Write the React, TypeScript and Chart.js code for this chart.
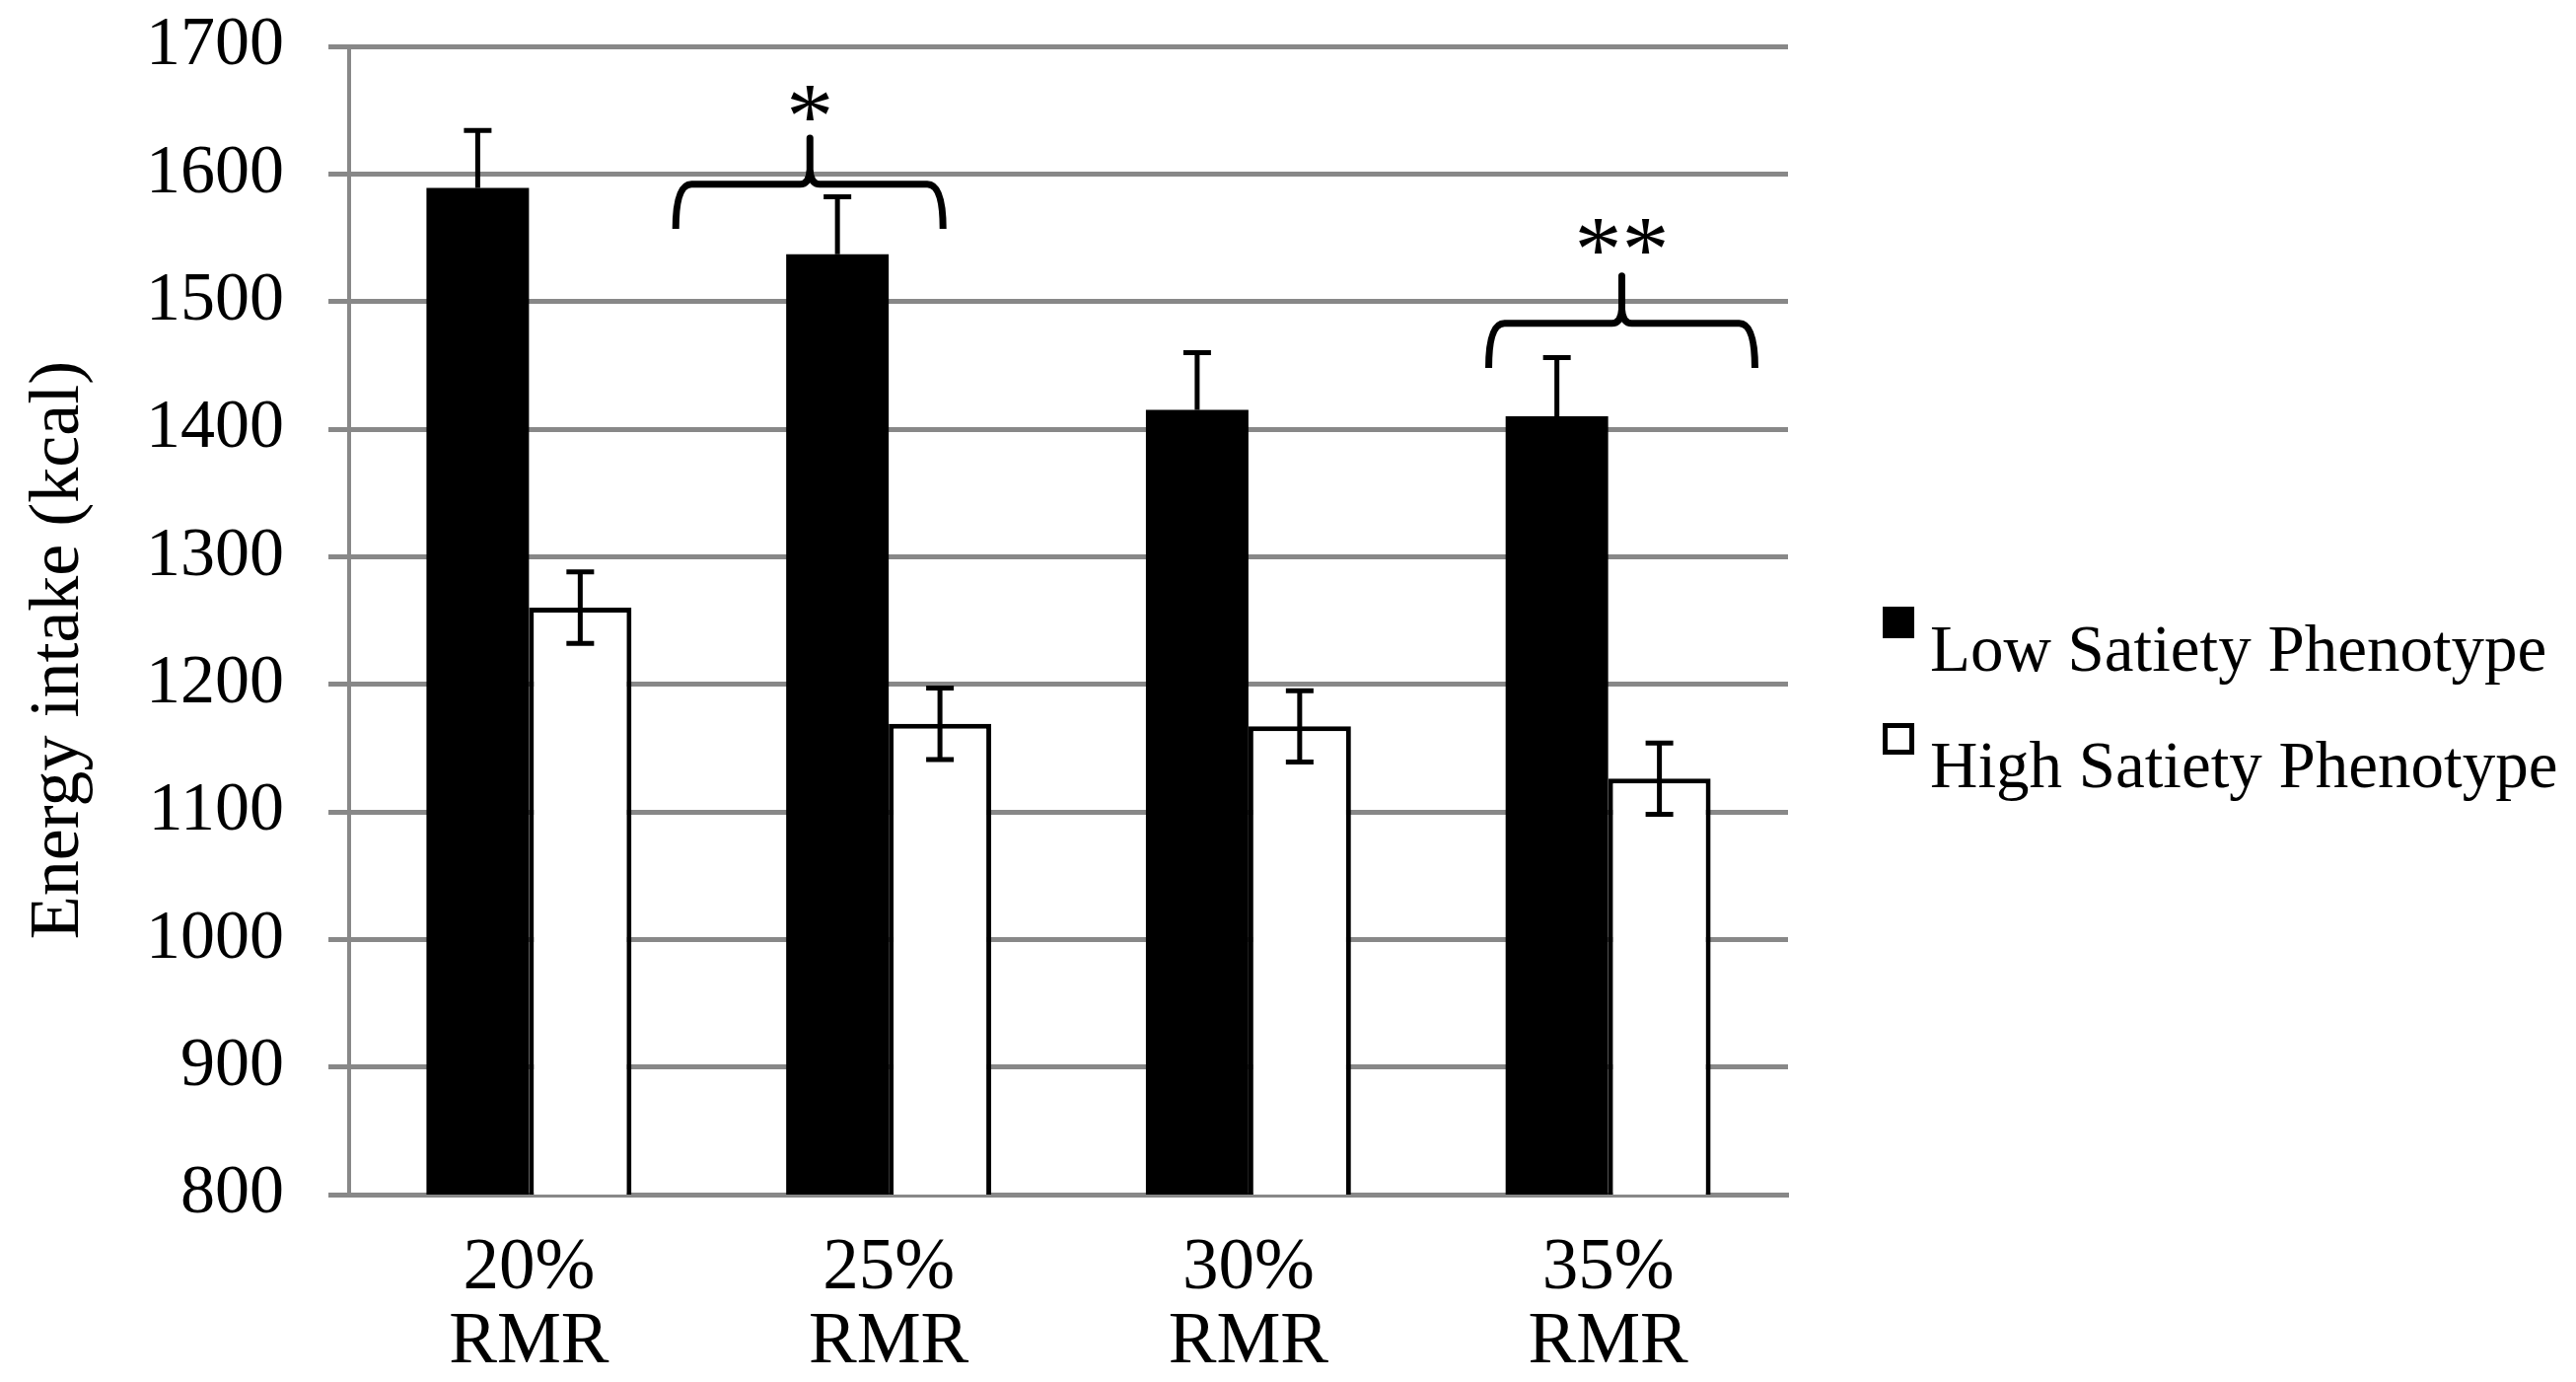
import React, { useEffect, useRef } from 'react';
import { Chart, registerables } from 'chart.js';

Chart.register(...registerables);

// ---------------- data ----------------
const categories = ['20%', '25%', '30%', '35%'];
const categorySuffix = 'RMR';
const seriesNames = ['Low Satiety Phenotype', 'High Satiety Phenotype'];
const lowSatiety = [1589, 1537, 1415, 1410];
const lowSatietySE = [45, 45, 45, 46];
const highSatiety = [1260, 1169, 1167, 1126];
const highSatietySE = [28, 28, 28, 28];
const yMin = 800;
const yMax = 1700;
const yStep = 100;
const yTitle = 'Energy intake (kcal)';
const sigText = ['*', '**'];
const sigGroup = [1, 3];
const sigLevel = [1592, 1483];

// ---------------- styling / annotation geometry ----------------
const FONT = 'Liberation Serif';
const GRID = '#888888';
const BRACKET_GEOM = [
  { from: -0.592, to: 0.151, peak: -0.219, drop: 35, rise: 36, text: 63 },
  { from: -0.332, to: 0.408, peak: 0.038, drop: 35, rise: 37, text: 68 },
];

const errorBarPlugin = {
  id: 'errorBars',
  afterDatasetsDraw(chart: any) {
    const { ctx } = chart;
    const y = chart.scales.y;
    const errs = [lowSatietySE, highSatietySE];
    const vals = [lowSatiety, highSatiety];
    ctx.save();
    ctx.strokeStyle = '#000';
    ctx.lineWidth = 5;
    ctx.lineCap = 'butt';
    const cap = 14;
    for (let d = 0; d < 2; d++) {
      const meta = chart.getDatasetMeta(d);
      meta.data.forEach((bar: any, i: number) => {
        const v = vals[d][i];
        const e = errs[d][i];
        const top = y.getPixelForValue(v + e);
        const bottom = d === 0 ? y.getPixelForValue(v) : y.getPixelForValue(v - e);
        ctx.beginPath();
        ctx.moveTo(bar.x, top);
        ctx.lineTo(bar.x, bottom);
        ctx.moveTo(bar.x - cap, top);
        ctx.lineTo(bar.x + cap, top);
        if (d === 1) {
          ctx.moveTo(bar.x - cap, bottom);
          ctx.lineTo(bar.x + cap, bottom);
        }
        ctx.stroke();
      });
    }
    ctx.restore();
  },
};

const bracketPlugin = {
  id: 'brackets',
  afterDatasetsDraw(chart: any) {
    const { ctx } = chart;
    const xs = chart.scales.x;
    const ys = chart.scales.y;
    const cw = xs.getPixelForValue(1) - xs.getPixelForValue(0);
    ctx.save();
    ctx.strokeStyle = '#000';
    ctx.fillStyle = '#000';
    ctx.lineWidth = 7;
    ctx.lineJoin = 'round';
    sigGroup.forEach((g, k) => {
      const geo = BRACKET_GEOM[k];
      const cx = xs.getPixelForValue(g);
      const xL = cx + geo.from * cw;
      const xR = cx + geo.to * cw;
      const xP = cx + geo.peak * cw;
      const yH = ys.getPixelForValue(sigLevel[k]);
      const yE = ys.getPixelForValue(sigLevel[k] - geo.drop);
      const yT = ys.getPixelForValue(sigLevel[k] + geo.rise);
      ctx.lineCap = 'butt';
      ctx.beginPath();
      ctx.moveTo(xL, yE);
      ctx.bezierCurveTo(xL, yH + 22, xL + 3, yH, xL + 16, yH);
      ctx.lineTo(xP - 10, yH);
      ctx.quadraticCurveTo(xP - 1, yH, xP, yH - 14);
      ctx.moveTo(xP, yH - 14);
      ctx.quadraticCurveTo(xP + 1, yH, xP + 10, yH);
      ctx.lineTo(xR - 16, yH);
      ctx.bezierCurveTo(xR - 3, yH, xR, yH + 22, xR, yE);
      ctx.stroke();
      ctx.lineCap = 'round';
      ctx.beginPath();
      ctx.moveTo(xP, yH - 10);
      ctx.lineTo(xP, yT);
      ctx.stroke();
      // significance text
      ctx.font = `96px "${FONT}"`;
      ctx.textAlign = 'center';
      ctx.textBaseline = 'alphabetic';
      const m = ctx.measureText(sigText[k]);
      const py = ys.getPixelForValue(sigLevel[k] + geo.text);
      const base = py + (m.actualBoundingBoxAscent - m.actualBoundingBoxDescent) / 2;
      ctx.fillText(sigText[k], xP, base);
    });
    ctx.restore();
  },
};

const yTitlePlugin = {
  id: 'yTitle',
  afterDraw(chart: any) {
    const { ctx, chartArea } = chart;
    ctx.save();
    ctx.font = `72px "${FONT}"`;
    ctx.fillStyle = '#000';
    ctx.textAlign = 'center';
    ctx.textBaseline = 'middle';
    const cy = (chartArea.top + chartArea.bottom) / 2 + 30;
    ctx.translate(60, cy);
    ctx.rotate(-Math.PI / 2);
    ctx.fillText(yTitle, 0, 0);
    ctx.restore();
  },
};

const legendPlugin = {
  id: 'sideLegend',
  afterDraw(chart: any) {
    const { ctx, chartArea } = chart;
    ctx.save();
    const boxX = chartArea.right + 96;
    const textX = chartArea.right + 144;
    const box = 32;
    ctx.font = `67px "${FONT}"`;
    ctx.textAlign = 'left';
    ctx.textBaseline = 'alphabetic';
    ctx.fillStyle = '#000';
    seriesNames.forEach((name, i) => {
      const baseY = chartArea.top + 633 + i * 118;
      const boxTop = baseY - 65;
      if (i === 0) {
        ctx.fillStyle = '#000';
        ctx.fillRect(boxX, boxTop, box, box);
      } else {
        ctx.fillStyle = '#fff';
        ctx.fillRect(boxX, boxTop, box, box);
        ctx.strokeStyle = '#000';
        ctx.lineWidth = 5;
        ctx.strokeRect(boxX + 2.5, boxTop + 2.5, box - 5, box - 5);
      }
      ctx.fillStyle = '#000';
      ctx.fillText(name, textX, baseY);
    });
    ctx.restore();
  },
};

export default function App() {
  const ref = useRef<HTMLCanvasElement | null>(null);

  useEffect(() => {
    document.body.style.margin = '0';
    const canvas = ref.current;
    if (!canvas) return;
    const chart = new Chart(canvas, {
      type: 'bar',
      data: {
        labels: categories.map((c) => [c, categorySuffix]),
        datasets: [
          {
            label: seriesNames[0],
            data: lowSatiety,
            backgroundColor: '#000000',
            borderColor: '#000000',
            borderWidth: 0,
            barPercentage: 1,
            categoryPercentage: 0.57,
          },
          {
            label: seriesNames[1],
            data: highSatiety,
            backgroundColor: '#ffffff',
            borderColor: '#000000',
            borderWidth: 5,
            borderSkipped: false,
            barPercentage: 1,
            categoryPercentage: 0.57,
          },
        ],
      },
      options: {
        responsive: false,
        animation: false,
        devicePixelRatio: 1,
        layout: { padding: { top: 47, right: 799, bottom: 0, left: 0 } },
        plugins: {
          legend: { display: false },
          tooltip: { enabled: false },
        },
        scales: {
          x: {
            grid: { display: false },
            border: { display: true, color: GRID, width: 5 },
            ticks: {
              color: '#000',
              padding: 30,
              maxRotation: 0,
              autoSkip: false,
              font: { family: FONT, size: 73, lineHeight: 1.03 },
            },
            afterFit(scale: any) {
              scale.height = 190;
            },
          },
          y: {
            min: yMin,
            max: yMax,
            grid: { color: GRID, lineWidth: 5, tickLength: 21, drawTicks: true },
            border: { display: true, color: GRID, width: 4 },
            ticks: {
              stepSize: yStep,
              color: '#000',
              padding: 45,
              font: { family: FONT, size: 70 },
              callback: (v: any) => String(v),
            },
            title: { display: false },
            afterFit(scale: any) {
              scale.width = 354;
              scale.paddingTop = 10;
              scale.paddingBottom = 10;
            },
          },
        },
      },
      plugins: [errorBarPlugin, bracketPlugin, yTitlePlugin, legendPlugin],
    } as any);
    return () => chart.destroy();
  }, []);

  return (
    <div style={{ width: 2612, height: 1401, background: '#fff' }}>
      <canvas ref={ref} width={2612} height={1401} style={{ display: 'block' }} />
    </div>
  );
}
